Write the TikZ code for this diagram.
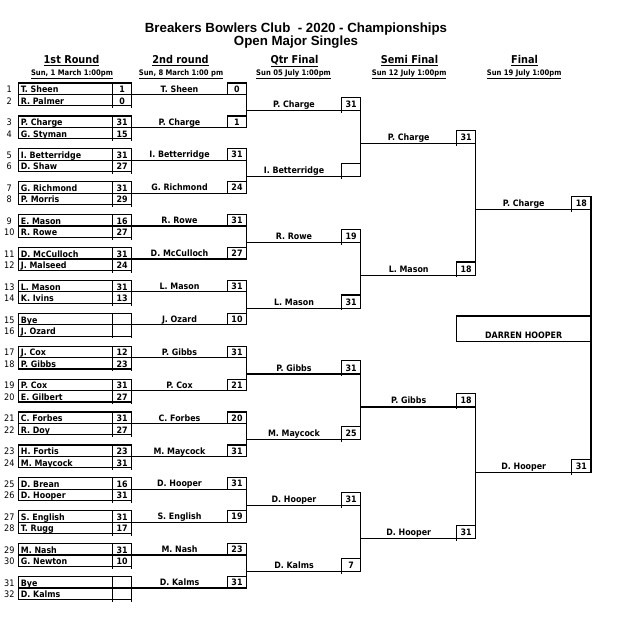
\documentclass[tikz,border=0pt]{standalone}
\usepackage{fontspec}
\setmainfont{DejaVu Sans Condensed}
\newfontfamily\titlefont{Liberation Sans}
\tikzset{
  ln/.style={line width=1.2pt, line cap=rect},
  nmA/.style={anchor=base west, inner sep=0pt, font=\bfseries\fontsize{8.8}{10}\selectfont},
  nmC/.style={anchor=base, inner sep=0pt, font=\bfseries\fontsize{8.8}{10}\selectfont},
  num/.style={anchor=base, inner sep=0pt, font=\fontsize{9}{10}\selectfont},
  hd/.style={anchor=base, inner sep=0pt, font=\bfseries\fontsize{10.8}{12}\selectfont},
  dt/.style={anchor=base, inner sep=0pt, font=\bfseries\fontsize{7.6}{10}\selectfont},
  ttl/.style={anchor=base, inner sep=0pt, font=\titlefont\bfseries\fontsize{13.3}{15}\selectfont},
}
\begin{document}
\begin{tikzpicture}[x=1pt,y=-1pt]
\useasboundingbox (0,0) rectangle (621,625);
% title
\node[ttl] (t1) at (296,32.7) {Breakers Bowlers Club\ \ - 2020 - Championships};
\node[ttl] (t2) at (296,45.5) {Open Major Singles};
% headers
\node[hd] (h1) at (71.5,63.3) {\underline{1st Round}};
\node[dt] (d1) at (72,75.3) {\underline{Sun, 1 March 1:00pm}};
\node[hd] (h2) at (180.5,63.3) {\underline{2nd round}};
\node[dt] (d2) at (181,75.3) {\underline{Sun, 8 March 1:00 pm}};
\node[hd] (h3) at (294.5,63.3) {\underline{Qtr Final}};
\node[dt] (d3) at (293.5,75.3) {\underline{Sun 05 July 1:00pm}};
\node[hd] (h4) at (409.5,63.3) {\underline{Semi Final}};
\node[dt] (d4) at (409.2,75.3) {\underline{Sun 12 July 1:00pm}};
\node[hd] (h5) at (524.5,63.3) {\underline{Final}};
\node[dt] (d5) at (524.2,75.3) {\underline{Sun 19 July 1:00pm}};
% round 1 boxes and round 2 lines
\foreach \k in {0,...,15}{
  \pgfmathsetmacro\t{83+32.9*\k}
  \draw[ln] (18.3,\t) rectangle (131.7,\t+22.8);
  \draw[ln] (112.5,\t) -- (112.5,\t+24.5);
  \draw[ln] (131.7,\t+22.8) -- (131.7,\t+24.5);
  \draw[ln] (18.3,\t+11.4) -- (246.7,\t+11.4);
  \draw[ln] (227.3,\t+11.4) -- (227.3,\t) -- (246.7,\t);
}
\foreach \j in {0,...,7}{
  \pgfmathsetmacro\t{83+65.8*\j}
  \draw[ln] (246.7,\t) -- (246.7,\t+44.3);
}
% round 1 texts
\foreach \nm/\sc [count=\n from 1] in {T. Sheen/1, R. Palmer/0, P. Charge/31, G. Styman/15,
  I. Betterridge/31, D. Shaw/27, G. Richmond/31, P. Morris/29, E. Mason/16, R. Rowe/27,
  D. McCulloch/31, J. Malseed/24, L. Mason/31, K. Ivins/13, Bye/, J. Ozard/,
  J. Cox/12, P. Gibbs/23, P. Cox/31, E. Gilbert/27, C. Forbes/31, R. Doy/27,
  H. Fortis/23, M. Maycock/31, D. Brean/16, D. Hooper/31, S. English/31, T. Rugg/17,
  M. Nash/31, G. Newton/10, Bye/, D. Kalms/}{
  \pgfmathtruncatemacro\i{\n-1}
  \pgfmathsetmacro\yb{83+32.9*floor(\i/2)+11.4*(mod(\i,2)+1)-1.7}
  \node[num] (n\n) at (9.3,\yb) {\n};
  \node[nmA] (p\n) at (20.7,\yb) {\nm};
  \node[nmC] (s\n) at (122.1,\yb) {\sc};
}
% round 2 texts
\foreach \nm/\sc [count=\j from 0] in {T. Sheen/0, P. Charge/1, I. Betterridge/31, G. Richmond/24,
  R. Rowe/31, D. McCulloch/27, L. Mason/31, J. Ozard/10, P. Gibbs/31, P. Cox/21,
  C. Forbes/20, M. Maycock/31, D. Hooper/31, S. English/19, M. Nash/23, D. Kalms/31}{
  \pgfmathsetmacro\yb{83+32.9*\j+9.1}
  \node[nmC] (q\j) at (179.5,\yb) {\nm};
  \node[nmC] (qs\j) at (237,\yb) {\sc};
}
% quarter finals
\foreach \nm/\sc [count=\j from 0] in {P. Charge/31, I. Betterridge/, R. Rowe/19, L. Mason/31,
  P. Gibbs/31, M. Maycock/25, D. Hooper/31, D. Kalms/7}{
  \pgfmathsetmacro\y{110.85+65.8*\j}
  \draw[ln] (246.7,\y) -- (360.7,\y);
  \draw[ln] (341.7,\y+1.5) -- (341.7,\y-13.3) -- (360.7,\y-13.3);
  \node[nmC] (qf\j) at (294,\y-3) {\nm};
  \node[nmC] (qfs\j) at (351.2,\y-3) {\sc};
}
\foreach \j in {0,...,3}{
  \pgfmathsetmacro\y{110.85+131.6*\j}
  \draw[ln] (360.7,\y-13.3) -- (360.7,\y+65.8);
}
% semi finals
\foreach \nm/\sc [count=\j from 0] in {P. Charge/31, L. Mason/18, P. Gibbs/18, D. Hooper/31}{
  \pgfmathsetmacro\y{143.75+131.6*\j}
  \draw[ln] (360.7,\y) -- (475.7,\y);
  \draw[ln] (456.7,\y+1.5) -- (456.7,\y-13.3) -- (475.7,\y-13.3);
  \node[nmC] (sf\j) at (408.7,\y-3) {\nm};
  \node[nmC] (sfs\j) at (466.2,\y-3) {\sc};
}
\foreach \j in {0,1}{
  \pgfmathsetmacro\y{143.75+263.2*\j}
  \draw[ln] (475.7,\y-13.3) -- (475.7,\y+131.6);
}
% final
\foreach \nm/\sc [count=\j from 0] in {P. Charge/18, D. Hooper/31}{
  \pgfmathsetmacro\y{209.55+263.2*\j}
  \draw[ln] (475.7,\y) -- (591,\y);
  \draw[ln] (571.7,\y+1.5) -- (571.7,\y-13.3) -- (591,\y-13.3);
  \node[nmC] (f\j) at (523.7,\y-3) {\nm};
  \node[nmC] (fs\j) at (581.3,\y-3) {\sc};
}
\draw[ln] (591,196.25) -- (591,472.75);
% champion
\draw[ln] (591,316) -- (456.7,316) -- (456.7,341.7) -- (591,341.7);
\node[nmC] (champ) at (523.7,338.3) {DARREN HOOPER};
\end{tikzpicture}
\end{document}
